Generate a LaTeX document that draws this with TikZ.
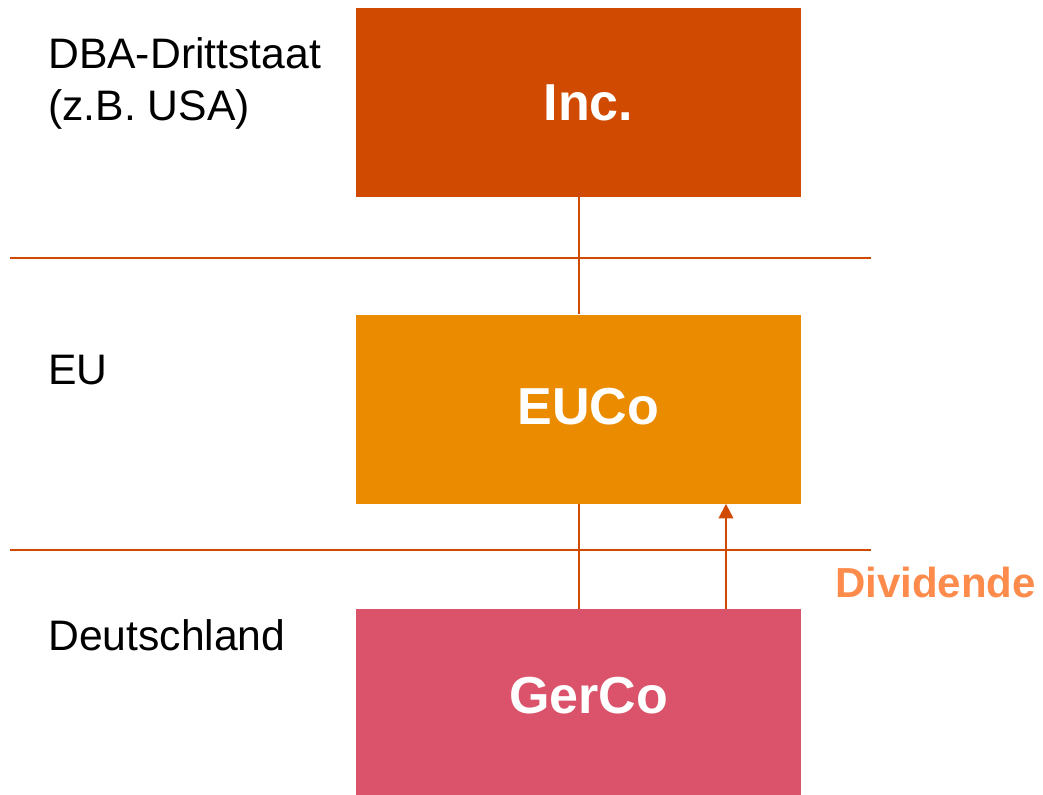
\documentclass[tikz,border=0pt]{standalone}
\usepackage{fontspec}
\setmainfont{Liberation Sans}
\usepackage{xcolor}
\usepackage{tikz}
\usetikzlibrary{arrows.meta, positioning}
\definecolor{incred}{HTML}{D04A02}
\definecolor{euorange}{HTML}{EB8C00}
\definecolor{gerrose}{HTML}{DB536A}
\definecolor{divorange}{HTML}{FD8B4B}
\tikzset{
    company/.style={rectangle, minimum width=333.75pt, minimum height=141.75pt, inner sep=0pt, text=white, font=\fontsize{39}{47}\selectfont\bfseries, execute at begin node=\hspace*{15pt}},
    region/.style={anchor=base west, inner sep=0pt, align=left, font=\fontsize{32}{39}\selectfont},
    border/.style={incred, line width=1.8pt},
    link/.style={incred, line width=1.5pt},
    arrow/.style={incred, line width=1.5pt, -{Triangle[length=11pt, width=11pt]}}
}
\begin{document}
\begin{tikzpicture}[x=0.75pt, y=-0.75pt]
    \useasboundingbox (0,0) rectangle (1043,794);
    % Companies
    \node (inc) [company, fill=incred] at (578.5,102.5) {Inc.};
    \node (euco) [company, fill=euorange, below=87.75pt of inc, text depth=4pt] {EUCo};
    \node (gerco) [company, fill=gerrose, below=78.75pt of euco, minimum height=139.5pt, text depth=10pt] {GerCo};

    % Country borders
    \draw [border] (10,258) -- (871,258);
    \draw [border] (10,550) -- (871,550);

    % Regions
    \node (usa) [region] at (48,120) {DBA-Drittstaat\\(z.B. USA)};
    \node (eu) [region] at (48,384) {EU};
    \node (de) [region] at (48,650) {Deutschland};

    % Edges
    \draw [link] (inc) -- (euco);
    \draw [link] (euco) -- (gerco);
    \draw [arrow] ([xshift=110.6pt]gerco.north) -- ([xshift=110.6pt]euco.south);
    \node (div) [anchor=base west, inner sep=0pt, text=divorange, font=\fontsize{31.5}{38}\selectfont\bfseries] at (835,597) {Dividende};
\end{tikzpicture}
\end{document}
